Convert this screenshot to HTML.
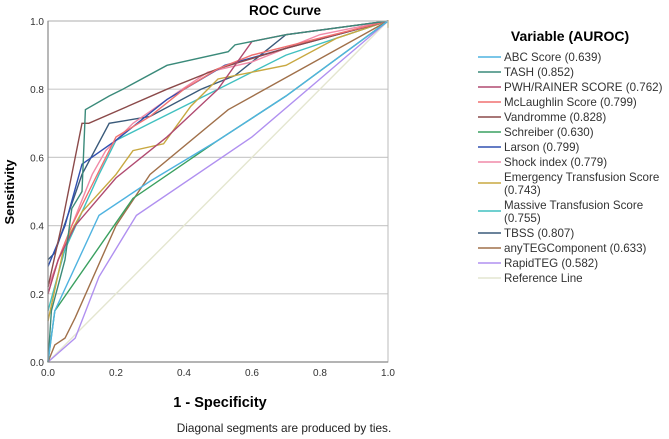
<!DOCTYPE html>
<html><head><meta charset="utf-8"><style>
body{margin:0;background:#fff;font-family:"Liberation Sans",sans-serif}
svg{display:block}
</style></head><body>
<svg id="c" width="669" height="439" xmlns="http://www.w3.org/2000/svg">
<text x="285" y="15" font-size="13.5" font-weight="bold" text-anchor="middle">ROC Curve</text>
<g id="grid"></g><g id="series"></g><g id="axes"></g><g id="legend"></g>
<text x="14" y="192" font-size="13" font-weight="bold" text-anchor="middle" transform="rotate(-90 14 192)">Sensitivity</text>
<text x="220" y="407" font-size="14.5" font-weight="bold" text-anchor="middle">1 - Specificity</text>
<text x="284" y="432" font-size="11.8" text-anchor="middle" fill="#222">Diagonal segments are produced by ties.</text>
</svg>
<script>
const ticks=[0,0.2,0.4,0.6,0.8,1.0];
const tickLabels=["0.0","0.2","0.4","0.6","0.8","1.0"];
const names=["ABC Score (0.639)","TASH (0.852)","PWH/RAINER SCORE (0.762)","McLaughlin Score (0.799)","Vandromme (0.828)","Schreiber (0.630)","Larson (0.799)","Shock index (0.779)","Emergency Transfusion Score|(0.743)","Massive Transfusion Score|(0.755)","TBSS (0.807)","anyTEGComponent (0.633)","RapidTEG (0.582)","Reference Line"];
const colors=["#4fb3e0","#3a8a7a","#b04a70","#f07070","#8b4a4a","#3aa060","#3050b0","#f08aa8","#c8a840","#40c0c0","#3a5a7a","#a0704a","#b090f0","#e4e6d0"];
const fprABC=[0,0.02,0.15,0.3,0.5,0.7,1], tprABC=[0,0.15,0.43,0.53,0.65,0.78,1];
const fprTASH=[0,0.01,0.05,0.07,0.1,0.11,0.18,0.22,0.35,0.53,0.55,0.7,1], tprTASH=[0,0.15,0.3,0.45,0.5,0.74,0.78,0.8,0.87,0.91,0.93,0.96,1];
const fprPWH=[0,0.03,0.08,0.2,0.35,0.5,0.6,0.7,1], tprPWH=[0.2,0.3,0.4,0.54,0.66,0.8,0.94,0.96,1];
const fprMcL=[0,0.03,0.07,0.12,0.2,0.3,0.4,0.5,0.6,0.8,1], tprMcL=[0.2,0.3,0.4,0.5,0.66,0.72,0.8,0.86,0.9,0.95,1];
const fprVan=[0,0.04,0.1,0.12,0.35,0.5,0.7,1], tprVan=[0.22,0.4,0.7,0.7,0.8,0.86,0.92,1];
const fprSch=[0,0.02,0.25,0.5,0.7,1], tprSch=[0,0.15,0.48,0.65,0.78,1];
const fprLar=[0,0.05,0.1,0.2,0.35,0.52,0.7,1], tprLar=[0.28,0.4,0.58,0.65,0.77,0.87,0.92,1];
const fprSI=[0,0.05,0.13,0.17,0.25,0.38,0.47,0.6,0.8,1], tprSI=[0.22,0.35,0.55,0.62,0.7,0.79,0.85,0.88,0.96,1];
const fprETS=[0,0.05,0.1,0.2,0.25,0.34,0.42,0.5,0.7,0.85,1,1], tprETS=[0.12,0.35,0.44,0.55,0.62,0.64,0.75,0.83,0.87,0.95,1,0.98];
const fprMTS=[0,0.05,0.15,0.2,0.3,0.5,0.7,1], tprMTS=[0.15,0.33,0.55,0.65,0.7,0.8,0.9,1];
const fprTBSS=[0,0.02,0.1,0.18,0.3,0.45,0.55,0.7,1], tprTBSS=[0.3,0.32,0.55,0.7,0.72,0.8,0.84,0.96,1];
const fprTEG=[0,0.02,0.05,0.08,0.2,0.3,0.53,1], tprTEG=[0,0.05,0.07,0.13,0.4,0.55,0.74,1];
const fprRT=[0,0.08,0.15,0.26,0.6,1], tprRT=[0,0.07,0.25,0.43,0.66,1];
const fprRef=[0,1], tprRef=[0,1];
const fprs=[fprABC,fprTASH,fprPWH,fprMcL,fprVan,fprSch,fprLar,fprSI,fprETS,fprMTS,fprTBSS,fprTEG,fprRT,fprRef];
const tprs=[tprABC,tprTASH,tprPWH,tprMcL,tprVan,tprSch,tprLar,tprSI,tprETS,tprMTS,tprTBSS,tprTEG,tprRT,tprRef];
const NS="http://www.w3.org/2000/svg";
const X0=48,X1=388,Y0=362,Y1=21;
const sx=v=>X0+(X1-X0)*v, sy=v=>Y0-(Y0-Y1)*v;
function mk(t,a,p){const e=document.createElementNS(NS,t);for(const k in a)e.setAttribute(k,a[k]);p.appendChild(e);return e;}
const grid=document.getElementById('grid'),axes=document.getElementById('axes'),ser=document.getElementById('series'),leg=document.getElementById('legend');
ticks.forEach((t,i)=>{
 if(t>0){const g=mk('line',{x1:X0,x2:X1,y1:sy(t),y2:sy(t),stroke:'#ccc','stroke-width':1.2},grid);
 
 }
 const yl=mk('text',{x:X0-4,y:sy(t)+4,'font-size':10,'text-anchor':'end',fill:'#333'},axes);yl.textContent=tickLabels[i];
 
 
 const xl=mk('text',{x:sx(t),y:Y0+14,'font-size':10,'text-anchor':'middle',fill:'#333'},axes);xl.textContent=tickLabels[i];
 
 
});
const fr=mk('rect',{x:X0,y:Y1,width:X1-X0,height:Y0-Y1,fill:'none',stroke:'#bbb','stroke-width':1},axes);


const ax=mk('path',{d:`M${X0} ${Y1}V${Y0}H${X1}`,fill:'none',stroke:'#888','stroke-width':1.2},axes);


for(let s=fprs.length-1;s>=0;s--){
 const pts=fprs[s].map((f,i)=>sx(f)+','+sy(tprs[s][i])).join(' ');
 const p=mk('polyline',{points:pts,fill:'none',stroke:colors[s],'stroke-width':1.4},ser);
 
 
}
const lt=mk('text',{x:570,y:41,'font-size':14,'font-weight':'bold','text-anchor':'middle'},leg);lt.textContent='Variable (AUROC)';


let y=57;
names.forEach((n,i)=>{
 const parts=n.split('|');
 const ly=y+(parts.length-1)*6;
 const l=mk('line',{x1:478,x2:501,y1:ly,y2:ly,stroke:colors[i],'stroke-width':1.5},leg);
 
 
 parts.forEach((p,j)=>{const t=mk('text',{x:504,y:y+4+j*13,'font-size':11.6,fill:'#333'},leg);t.textContent=p;
 
 });
 y+=15+(parts.length-1)*13;
});
</script>
</body></html>
